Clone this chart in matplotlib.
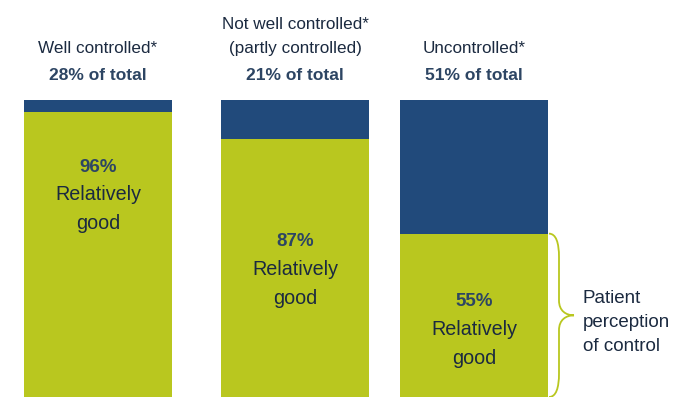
import matplotlib
matplotlib.use("Agg")
import matplotlib.pyplot as plt
from matplotlib.path import Path
from matplotlib.patches import PathPatch

# Данные
groups = ["Well controlled*", "Not well controlled*\n(partly controlled)", "Uncontrolled*"]
share_of_total = [28, 21, 51]
relatively_good = [96, 87, 55]
bracket_text = "Patient\nperception\nof control"

# Оформление
green = "#b9c71f"
blue = "#214a7b"
dark = "#1b2a40"
navy = "#2d4563"
fam = ["Liberation Sans", "DejaVu Sans"]

lefts = [24, 221, 400]
width = 148
text_y = [77.4, 52.2, 32.0]  # положение процента внутри зелёного столбца

fig = plt.figure(figsize=(6.79, 3.97), dpi=100)
ax = fig.add_axes([0, 0, 1, 1])
ymax = 100 * 397 / 297
ax.set_xlim(0, 679)
ax.set_ylim(0, ymax)
ax.axis("off")
px = ymax / 397  # одна точка изображения в единицах оси y

for i in range(3):
    ax.bar(lefts[i], relatively_good[i], width=width, align="edge", color=green, linewidth=0)
    ax.bar(lefts[i], 100 - relatively_good[i], bottom=relatively_good[i], width=width,
           align="edge", color=blue, linewidth=0)
    cx = lefts[i] + width / 2

    # заголовки над столбцами
    ax.text(cx, (397 - 80) * px, f"{share_of_total[i]}% of total", ha="center", va="baseline",
            fontsize=12.5, fontweight="bold", color=navy, family=fam)
    ax.text(cx, (397 - 53) * px, groups[i], ha="center", va="baseline", fontsize=12.3,
            color=dark, family=fam, linespacing=1.75)

    # подписи внутри
    ax.text(cx, text_y[i], f"{relatively_good[i]}%", ha="center", va="center",
            fontsize=13.5, fontweight="bold", color=navy, family=fam)
    ax.text(cx, text_y[i] - 42 * px, "Relatively\ngood", ha="center", va="center",
            fontsize=14.2, color=dark, family=fam, linespacing=1.7)

# фигурная скобка справа от третьего столбца
top = relatively_good[2]
mid = top / 2
x0, x1, x2 = 549, 559, 574
verts = [(x0, top), (556, top), (x1, top - 3), (x1, top - 8),
         (x1, mid + 5),
         (x1, mid + 1.5), (566, mid), (x2, mid),
         (566, mid), (x1, mid - 1.5), (x1, mid - 5),
         (x1, 8),
         (x1, 3), (556, 0), (x0, 0)]
codes = [Path.MOVETO, Path.CURVE4, Path.CURVE4, Path.CURVE4,
         Path.LINETO,
         Path.CURVE4, Path.CURVE4, Path.CURVE4,
         Path.CURVE4, Path.CURVE4, Path.CURVE4,
         Path.LINETO,
         Path.CURVE4, Path.CURVE4, Path.CURVE4]
ax.add_patch(PathPatch(Path(verts, codes), facecolor="none", edgecolor=green, linewidth=1.3))
ax.text(583, mid - 2.5, bracket_text, ha="left", va="center", fontsize=13.5, color=dark,
        family=fam, linespacing=1.55)

fig.savefig("out.png", dpi=100)
